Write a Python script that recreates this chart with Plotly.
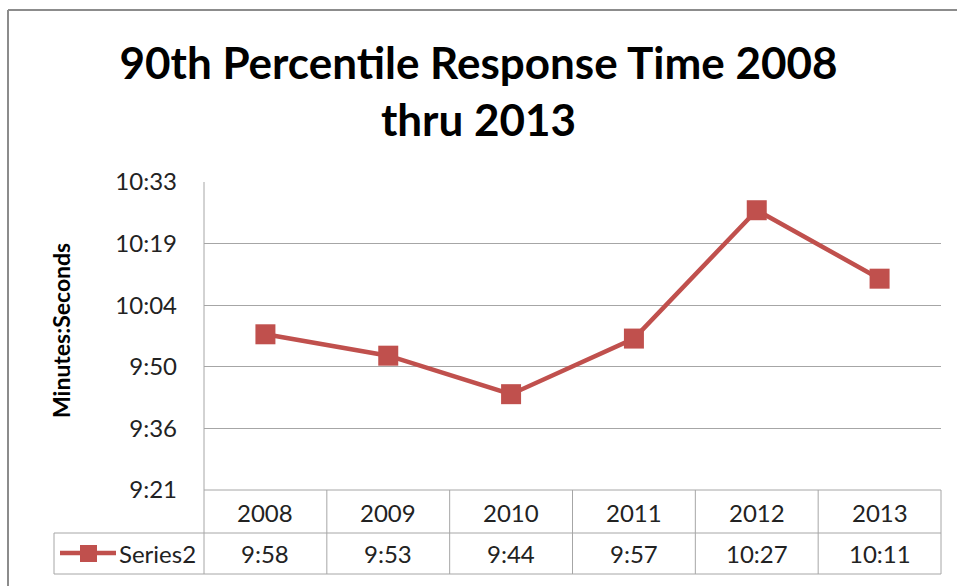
import plotly.graph_objects as go

# Data
years = ["2008", "2009", "2010", "2011", "2012", "2013"]
times = ["9:58", "9:53", "9:44", "9:57", "10:27", "10:11"]
tick_labels = ["9:21", "9:36", "9:50", "10:04", "10:19", "10:33"]
series_name = "Series2"

def to_sec(s):
    m, sec = s.split(":")
    return int(m) * 60 + int(sec)

secs = [to_sec(t) for t in times]
# Excel-style axis: 0.000166667 day steps (14.4 s), starting at 9:21.6
tick_step = 14.4
tick_start = 561.6
tick_vals = [tick_start + i * tick_step for i in range(len(tick_labels))]

W, H = 957, 586
L, R, T, B = 204, 941, 182, 490  # plot area in pixels
ml, mr, mt, mb = L, W - R, T, H - B

def px(x):
    return (x - L) / (R - L)

def py(y):
    return (B - y) / (B - T)

RED = "#C0504D"
GRID = "#A6A6A6"
FONT = "Lato"
TXT = "#222222"
FS = 24

xs = list(range(len(years)))

fig = go.Figure()
fig.add_trace(go.Scatter(
    x=xs, y=secs, mode="lines+markers", name=series_name,
    line=dict(color=RED, width=4.5),
    marker=dict(symbol="square", size=20, color=RED),
    showlegend=False, hoverinfo="skip",
))

shapes = []
annotations = []
line = dict(color=GRID, width=1)

# outer chart frame (left and top edges)
shapes.append(dict(type="line", xref="paper", yref="paper",
                   x0=px(8), x1=px(W + 5), y0=py(10), y1=py(10),
                   line=dict(color="#8C8C8C", width=2)))
shapes.append(dict(type="line", xref="paper", yref="paper",
                   x0=px(8), x1=px(8), y0=py(10), y1=py(H + 5),
                   line=dict(color="#8C8C8C", width=2)))

# value axis line, extended through the data table
shapes.append(dict(type="line", xref="paper", yref="paper",
                   x0=0, x1=0, y0=1, y1=py(574), line=line))

# data table grid
row_mid, row_bot = py(533), py(574)
shapes.append(dict(type="line", xref="paper", yref="paper",
                   x0=0, x1=1, y0=0, y1=0, line=line))
shapes.append(dict(type="line", xref="paper", yref="paper",
                   x0=px(54), x1=1, y0=row_mid, y1=row_mid, line=line))
shapes.append(dict(type="line", xref="paper", yref="paper",
                   x0=px(54), x1=1, y0=row_bot, y1=row_bot, line=line))
shapes.append(dict(type="line", xref="paper", yref="paper",
                   x0=px(54), x1=px(54), y0=row_mid, y1=row_bot, line=line))
shapes.append(dict(type="line", xref="paper", yref="paper",
                   x0=1, x1=1, y0=0, y1=row_bot, line=line))
for i in range(len(years) - 1):
    shapes.append(dict(type="line", xref="x", yref="paper",
                       x0=i + 0.5, x1=i + 0.5, y0=0, y1=row_bot, line=line))

for i, (yr, t) in enumerate(zip(years, times)):
    annotations.append(dict(x=i, y=py(512), xref="x", yref="paper",
                            xanchor="center", yanchor="middle",
                            text=yr, showarrow=False,
                            font=dict(family=FONT, size=FS, color=TXT)))
    annotations.append(dict(x=i, y=py(553), xref="x", yref="paper",
                            xanchor="center", yanchor="middle",
                            text=t, showarrow=False,
                            font=dict(family=FONT, size=FS, color=TXT)))

# legend key inside the table
shapes.append(dict(type="line", xref="paper", yref="paper",
                   x0=px(60), x1=px(116), y0=py(553), y1=py(553),
                   line=dict(color=RED, width=4.5)))
shapes.append(dict(type="rect", xref="paper", yref="paper",
                   x0=px(80), x1=px(97), y0=py(545), y1=py(562),
                   line=dict(width=0), fillcolor=RED))
annotations.append(dict(x=px(117), y=py(553), xref="paper", yref="paper",
                        xanchor="left", yanchor="middle",
                        text=series_name, showarrow=False,
                        font=dict(family=FONT, size=FS, color=TXT)))

# axis title
annotations.append(dict(x=px(61), y=py(331), xref="paper", yref="paper",
                        xanchor="center", yanchor="middle",
                        text="<b>Minutes:Seconds</b>", textangle=-90,
                        showarrow=False,
                        font=dict(family=FONT, size=23, color="#000")))

fig.update_layout(
    width=W, height=H,
    margin=dict(l=ml, r=mr, t=mt, b=mb),
    paper_bgcolor="white", plot_bgcolor="white",
    title=dict(text="<b>90th Percentile Response Time 2008<br>thru 2013</b>",
               x=0.5, xanchor="center", xref="container",
               y=1 - 79 / H, yanchor="middle", yref="container",
               font=dict(family=FONT, size=44, color="#000")),
    xaxis=dict(range=[-0.5, len(years) - 0.5], showgrid=False,
               showticklabels=False, zeroline=False, showline=False,
               fixedrange=True),
    yaxis=dict(range=[tick_vals[0], tick_vals[-1]], tickvals=tick_vals,
               ticktext=tick_labels, showgrid=True, gridcolor=GRID,
               gridwidth=1, zeroline=False, showline=False, ticks="",
               ticklen=0, tickfont=dict(family=FONT, size=FS, color=TXT),
               ticklabelstandoff=26, fixedrange=True),
    shapes=shapes, annotations=annotations,
    showlegend=False,
)

fig.write_html("out.html")
